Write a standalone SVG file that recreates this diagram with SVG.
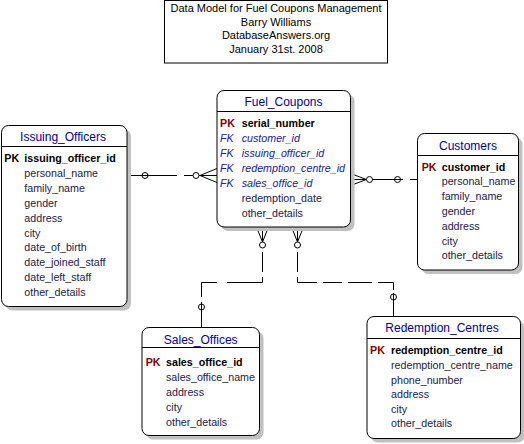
<svg xmlns="http://www.w3.org/2000/svg" width="524" height="444" viewBox="0 0 524 444">
<style>
.bg{fill:#fff}
.box{fill:#fff;stroke:#000;stroke-width:1}
.sh{fill:#c0c0c0}
.hl{stroke:#000;stroke-width:1}
.t{font-family:"Liberation Sans",Arial,sans-serif;font-size:12px;fill:#000099;text-anchor:middle}
.pk{font-family:"Liberation Sans",Arial,sans-serif;font-size:10.7px;font-weight:bold;fill:#800000}
.pkb{font-family:"Liberation Sans",Arial,sans-serif;font-size:10.7px;font-weight:bold;fill:#000}
.pkf{font-family:"Liberation Sans",Arial,sans-serif;font-size:10.7px;font-weight:bold;fill:#000}
.fk{font-family:"Liberation Sans",Arial,sans-serif;font-size:10.7px;font-style:italic;fill:#2020a0}
.f{font-family:"Liberation Sans",Arial,sans-serif;font-size:10.7px;fill:#1a1a4a}
.hd{font-family:"Liberation Sans",Arial,sans-serif;font-size:11px;fill:#000;text-anchor:middle}
.ln{stroke:#000;stroke-width:1;fill:none}
.cw{fill:#fff;stroke:#000;stroke-width:1}
.cn{fill:none;stroke:#000;stroke-width:1}
</style>
<rect class="bg" x="0" y="0" width="524" height="444"/>

<g id="title">
<rect x="164.5" y="0.5" width="223" height="62.5" fill="#fff" stroke="#000"/>
<text class="hd" x="276" y="12">Data Model for Fuel Coupons Management</text>
<text class="hd" x="276" y="25.5">Barry Williams</text>
<text class="hd" x="276" y="39">DatabaseAnswers.org</text>
<text class="hd" x="276" y="52.5">January 31st. 2008</text>
</g>

<g id="connectors">
<!-- Issuing_Officers - Fuel_Coupons -->
<line class="ln" x1="127" y1="175.5" x2="177" y2="175.5"/>
<circle class="cn" cx="145" cy="175.5" r="3"/>
<line class="ln" x1="184" y1="175.5" x2="217" y2="175.5"/>
<polyline class="ln" points="217,168.5 200,175.5 217,182.5"/>
<circle class="cw" cx="196" cy="175.5" r="3"/>
<!-- Fuel_Coupons - Customers -->
<polyline class="ln" points="350.5,173.5 366.5,179.5 350.5,185.5"/>
<line class="ln" x1="350.5" y1="179.5" x2="366.5" y2="179.5"/>
<circle class="cw" cx="369.5" cy="179.5" r="3"/>
<line class="ln" x1="372.5" y1="179.5" x2="403" y2="179.5"/>
<circle class="cn" cx="397.5" cy="179.5" r="3"/>
<line class="ln" x1="410" y1="179.5" x2="417" y2="179.5"/>
<!-- Fuel_Coupons - Sales_Offices -->
<polyline class="ln" points="256.5,227 262.5,242 268.5,227"/>
<line class="ln" x1="262.5" y1="227" x2="262.5" y2="242"/>
<circle class="cw" cx="262.5" cy="245" r="3"/>
<line class="ln" x1="262.5" y1="252" x2="262.5" y2="272"/>
<path class="ln" d="M262.5,277 V282.5 H227"/>
<path class="ln" d="M217,282.5 H201.5 V297"/>
<line class="ln" x1="201.5" y1="302" x2="201.5" y2="327"/>
<circle class="cn" cx="201.5" cy="307" r="3"/>
<!-- Fuel_Coupons - Redemption_Centres -->
<polyline class="ln" points="291.5,227 297.5,242 303.5,227"/>
<line class="ln" x1="297.5" y1="227" x2="297.5" y2="242"/>
<circle class="cw" cx="297.5" cy="245" r="3"/>
<line class="ln" x1="297.5" y1="252" x2="297.5" y2="272"/>
<path class="ln" d="M297.5,277 V282.5 H317"/>
<line class="ln" x1="323" y1="282.5" x2="342" y2="282.5"/>
<line class="ln" x1="348" y1="282.5" x2="372" y2="282.5"/>
<path class="ln" d="M378,282.5 H393.5 V290"/>
<line class="ln" x1="393.5" y1="293" x2="393.5" y2="316.5"/>
<circle class="cn" cx="393.5" cy="297" r="3"/>
</g>

<g id="Issuing_Officers">
<rect class="sh" x="5.5" y="129.5" width="125.5" height="181" rx="7"/>
<rect class="box" x="1.5" y="125.5" width="125.5" height="181" rx="7"/>
<line class="hl" x1="1.5" y1="146.5" x2="127" y2="146.5"/>
<text class="t" x="63" y="141">Issuing_Officers</text>
<text class="pkb" x="4.3" y="162">PK</text>
<text class="pkf" x="24.3" y="162">issuing_officer_id</text>
<text class="f" x="24.3" y="176.9">personal_name</text>
<text class="f" x="24.3" y="191.8">family_name</text>
<text class="f" x="24.3" y="206.7">gender</text>
<text class="f" x="24.3" y="221.6">address</text>
<text class="f" x="24.3" y="236.5">city</text>
<text class="f" x="24.3" y="251.4">date_of_birth</text>
<text class="f" x="24.3" y="266.3">date_joined_staff</text>
<text class="f" x="24.3" y="281.2">date_left_staff</text>
<text class="f" x="24.3" y="296.1">other_details</text>
</g>

<g id="Fuel_Coupons">
<rect class="sh" x="221" y="94.5" width="133.5" height="136.5" rx="7"/>
<rect class="box" x="217" y="90.5" width="133.5" height="136.5" rx="7"/>
<line class="hl" x1="217" y1="111.5" x2="350.5" y2="111.5"/>
<text class="t" x="283.5" y="106">Fuel_Coupons</text>
<text class="pk" x="220" y="127">PK</text>
<text class="pkf" x="241.7" y="127">serial_number</text>
<text class="fk" x="220" y="142">FK</text>
<text class="fk" x="241.7" y="142">customer_id</text>
<text class="fk" x="220" y="157">FK</text>
<text class="fk" x="241.7" y="157">issuing_officer_id</text>
<text class="fk" x="220" y="172">FK</text>
<text class="fk" x="241.7" y="172">redemption_centre_id</text>
<text class="fk" x="220" y="187">FK</text>
<text class="fk" x="241.7" y="187">sales_office_id</text>
<text class="f" x="241.7" y="202">redemption_date</text>
<text class="f" x="241.7" y="217">other_details</text>
</g>

<g id="Customers">
<rect class="sh" x="421.5" y="137.5" width="101" height="136.5" rx="7"/>
<rect class="box" x="417.5" y="133.5" width="101" height="136.5" rx="7"/>
<line class="hl" x1="417.5" y1="155.5" x2="518.5" y2="155.5"/>
<text class="t" x="468" y="149.5">Customers</text>
<text class="pk" x="421.7" y="170.5">PK</text>
<text class="pkf" x="441.7" y="170.5">customer_id</text>
<text class="f" x="441.7" y="185.3">personal_name</text>
<text class="f" x="441.7" y="200.1">family_name</text>
<text class="f" x="441.7" y="214.9">gender</text>
<text class="f" x="441.7" y="229.7">address</text>
<text class="f" x="441.7" y="244.5">city</text>
<text class="f" x="441.7" y="259.3">other_details</text>
</g>

<g id="Sales_Offices">
<rect class="sh" x="146" y="331.5" width="117.5" height="108" rx="7"/>
<rect class="box" x="142" y="327.5" width="117.5" height="108" rx="7"/>
<line class="hl" x1="142" y1="347.5" x2="259.5" y2="347.5"/>
<text class="t" x="200.7" y="343.5">Sales_Offices</text>
<text class="pk" x="145.7" y="365.5">PK</text>
<text class="pkf" x="166" y="365.5">sales_office_id</text>
<text class="f" x="166" y="380.5">sales_office_name</text>
<text class="f" x="166" y="395.5">address</text>
<text class="f" x="166" y="410.5">city</text>
<text class="f" x="166" y="425.5">other_details</text>
</g>

<g id="Redemption_Centres">
<rect class="sh" x="371" y="321" width="153.5" height="121.5" rx="7"/>
<rect class="box" x="367" y="316.5" width="153.5" height="122" rx="7"/>
<line class="hl" x1="367" y1="338.5" x2="520.5" y2="338.5"/>
<text class="t" x="442" y="331.5">Redemption_Centres</text>
<text class="pk" x="370" y="354">PK</text>
<text class="pkf" x="391" y="354">redemption_centre_id</text>
<text class="f" x="391" y="369">redemption_centre_name</text>
<text class="f" x="391" y="383.5">phone_number</text>
<text class="f" x="391" y="398">address</text>
<text class="f" x="391" y="412.5">city</text>
<text class="f" x="391" y="427.3">other_details</text>
</g>
</svg>
